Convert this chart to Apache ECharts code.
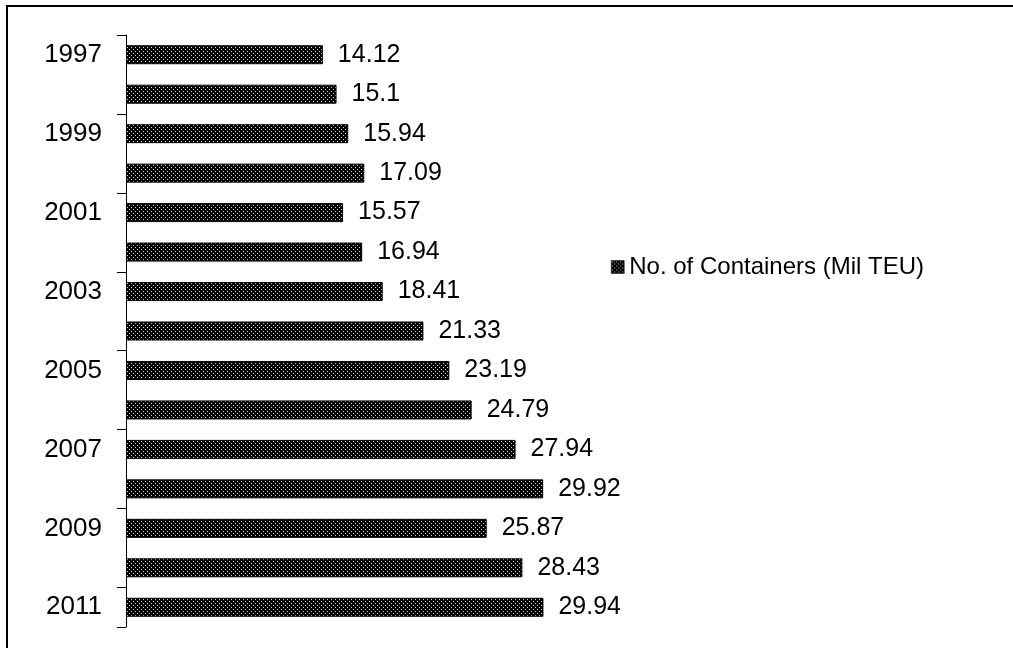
<!DOCTYPE html>
<html>
<head>
<meta charset="utf-8">
<script src="https://cdn.jsdelivr.net/npm/echarts@6/dist/echarts.min.js"></script>
<style>
html,body{margin:0;padding:0;background:#fff;}
#chart{width:1013px;height:648px;}
</style>
</head>
<body>
<div id="chart"></div>
<script>
const years = ['1997','1998','1999','2000','2001','2002','2003','2004','2005','2006','2007','2008','2009','2010','2011'];
const containers = [14.12, 15.1, 15.94, 17.09, 15.57, 16.94, 18.41, 21.33, 23.19, 24.79, 27.94, 29.92, 25.87, 28.43, 29.94];
const seriesName = 'No. of Containers (Mil TEU)';

function makePattern() {
  const c = document.createElement('canvas');
  c.width = 4; c.height = 4;
  const ctx = c.getContext('2d');
  ctx.fillStyle = '#000';
  ctx.fillRect(0, 0, 4, 4);
  ctx.fillStyle = '#d8d8d8';
  ctx.fillRect(1, 1, 1, 1);
  ctx.fillRect(3, 3, 1, 1);
  return c;
}
const pattern = { image: makePattern(), repeat: 'repeat' };
const FONT = '"Liberation Sans", Arial, sans-serif';

const chart = echarts.init(document.getElementById('chart'), null, {renderer: 'canvas'});
chart.setOption({
  animation: false,
  backgroundColor: '#fff',
  textStyle: { fontFamily: FONT, color: '#000' },
  grid: { left: 126, top: 35, bottom: 21, right: 399, containLabel: false },
  graphic: [{
    type: 'rect', silent: true, z: 100,
    shape: { x: 7, y: 6, width: 1200, height: 1000 },
    style: { fill: null, stroke: '#000', lineWidth: 2 }
  }],
  legend: {
    left: 611, top: 255, padding: 0,
    itemWidth: 13, itemHeight: 13,
    icon: 'rect',
    data: [seriesName],
    textStyle: { fontSize: 24, fontFamily: FONT, color: '#000' },
    itemStyle: { borderColor: '#000', borderWidth: 0.5 }
  },
  xAxis: {
    type: 'value', min: 0, max: 35, show: false
  },
  yAxis: {
    type: 'category', data: years, inverse: true,
    axisLine: { show: true, lineStyle: { color: '#000', width: 1 } },
    axisTick: { show: true, length: 9, lineStyle: { color: '#000', width: 1 } },
    axisLabel: { interval: 1, fontSize: 26, color: '#000', fontFamily: FONT, margin: 24 },
    splitLine: { show: false }
  },
  series: [{
    name: seriesName,
    type: 'bar',
    data: containers,
    barWidth: 19,
    itemStyle: { color: pattern, borderColor: '#000', borderWidth: 1 },
    label: { show: true, position: 'right', distance: 15, fontSize: 25, color: '#000', fontFamily: FONT }
  }]
});
</script>
</body>
</html>
